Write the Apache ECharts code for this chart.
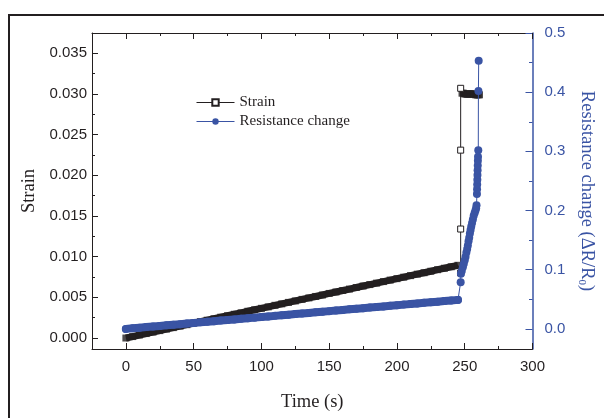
<!DOCTYPE html>
<html>
<head>
<meta charset="utf-8">
<script src="https://cdn.jsdelivr.net/npm/echarts@6/dist/echarts.min.js"></script>
<style>
  html, body { margin: 0; padding: 0; background: #fff; }
  #chart { width: 604px; height: 418px; }
</style>
</head>
<body>
<div id="chart"></div>
<script>
// Slow loading phase: time (s), strain and resistance change every 5 s
const bandTime = [0, 5, 10, 15, 20, 25, 30, 35, 40, 45, 50, 55, 60, 65, 70, 75, 80, 85, 90, 95,
  100, 105, 110, 115, 120, 125, 130, 135, 140, 145, 150, 155, 160, 165, 170, 175, 180, 185, 190, 195,
  200, 205, 210, 215, 220, 225, 230, 235, 240, 245];
const bandStrain = [0.0000, 0.00018, 0.00037, 0.00055, 0.00073, 0.00091, 0.0011, 0.00128, 0.00146, 0.00164,
  0.00183, 0.00201, 0.00219, 0.00237, 0.00256, 0.00274, 0.00292, 0.0031, 0.00329, 0.00347,
  0.00365, 0.00383, 0.00402, 0.0042, 0.00438, 0.00456, 0.00475, 0.00493, 0.00511, 0.00529,
  0.00548, 0.00566, 0.00584, 0.00602, 0.00621, 0.00639, 0.00657, 0.00675, 0.00694, 0.00712,
  0.0073, 0.00748, 0.00767, 0.00785, 0.00803, 0.00821, 0.0084, 0.00858, 0.00876, 0.00894];
const bandResistance = [0.000, 0.001, 0.002, 0.003, 0.004, 0.005, 0.006, 0.007, 0.008, 0.009,
  0.010, 0.011, 0.012, 0.013, 0.014, 0.015, 0.016, 0.017, 0.018, 0.019,
  0.020, 0.021, 0.022, 0.023, 0.024, 0.025, 0.026, 0.027, 0.028, 0.029,
  0.030, 0.031, 0.032, 0.033, 0.034, 0.035, 0.036, 0.037, 0.038, 0.039,
  0.040, 0.041, 0.042, 0.043, 0.044, 0.045, 0.046, 0.047, 0.048, 0.049];

// Sudden strain step
const stepTime = [247.0, 247.0, 247.0, 247.0];
const stepStrain = [0.0080, 0.0134, 0.0231, 0.0307];

// Strain hold
const holdTime = [248, 249, 250, 251, 252, 253, 254, 255, 256, 257, 258, 259, 260, 260.9];
const holdStrain = [0.0301, 0.0301, 0.0300, 0.0300, 0.0300, 0.0300, 0.0300, 0.0300, 0.0300, 0.0300,
  0.0299, 0.0299, 0.0299, 0.0299];

// Resistance rise after the step
const riseTime = [247.0, 247.2, 247.8, 248.6, 249.3, 250.0, 250.6, 251.2, 251.8, 252.3, 252.8, 253.3,
  253.8, 254.3, 254.8, 255.4, 256.0, 256.6, 257.3, 257.9, 258.4, 258.7,
  259.0, 259.1, 259.2, 259.3, 259.4, 259.5, 259.6, 259.7, 259.8, 260.0, 260.1, 260.3];
const riseResistance = [0.079, 0.093, 0.098, 0.104, 0.110, 0.116, 0.122, 0.129, 0.135, 0.141, 0.148, 0.154,
  0.161, 0.167, 0.173, 0.179, 0.185, 0.191, 0.196, 0.200, 0.204, 0.209,
  0.228, 0.236, 0.244, 0.252, 0.260, 0.268, 0.276, 0.284, 0.291, 0.302, 0.402, 0.453];

// Axis ticks
const timeTicks = [0, 50, 100, 150, 200, 250, 300];
const timeMinorTicks = [25, 75, 125, 175, 225, 275];
const strainTicks = [0, 0.005, 0.010, 0.015, 0.020, 0.025, 0.030, 0.035];
const strainMinorTicks = [0.0025, 0.0075, 0.0125, 0.0175, 0.0225, 0.0275, 0.0325];
const resistanceTicks = [0, 0.1, 0.2, 0.3, 0.4, 0.5];
const resistanceMinorTicks = [0.05, 0.15, 0.25, 0.35, 0.45];

const INK = '#231f20';
const BLUE = '#3a54a4';
const SANS = '"Liberation Sans", Arial, sans-serif';
const SERIF = '"Liberation Serif", "Times New Roman", serif';

const zip = (xs, ys) => xs.map((x, i) => [x, ys[i]]);
const strainBand = zip(bandTime, bandStrain);
const strainHold = zip(holdTime, holdStrain);
const resistanceBand = zip(bandTime, bandResistance);
const resistanceAll = resistanceBand.concat(zip(riseTime, riseResistance));

// Strain trace: the sparse step points keep their open squares, the dense stretches are drawn solid
const plain = p => ({ value: p, symbol: 'none' });
const strainAll = strainBand.map(plain)
  .concat(zip(stepTime, stepStrain))
  .concat(strainHold.map(plain));

function tickAxis(extra) {
  return Object.assign({
    type: 'value',
    splitLine: { show: false },
    axisLine: { show: false, onZero: false },
    axisLabel: { show: false },
    axisTick: { show: false }
  }, extra);
}

function denseTrace(data, yAxisIndex, color, width, cap, z) {
  return {
    type: 'line', xAxisIndex: 0, yAxisIndex,
    data, symbol: 'none', silent: true,
    lineStyle: { color, width, cap, join: 'round' }, z
  };
}

const chart = echarts.init(document.getElementById('chart'), null, { renderer: 'canvas' });

chart.setOption({
  animation: false,
  backgroundColor: '#fff',
  grid: { left: 92, right: 67, top: 33, bottom: 69 },
  graphic: [{
    type: 'rect',
    silent: true,
    shape: { x: 9, y: 15, width: 700, height: 500 },
    style: { fill: 'none', stroke: INK, lineWidth: 2 }
  }],
  legend: {
    data: [
      { name: 'Strain', lineStyle: { color: INK, width: 1 } },
      { name: 'Resistance change', lineStyle: { color: BLUE, width: 1 } }
    ],
    orient: 'vertical',
    left: 191,
    top: 90,
    itemWidth: 38,
    itemHeight: 8,
    itemGap: 4,
    textStyle: { fontFamily: SERIF, fontSize: 15, color: INK }
  },
  xAxis: [
    tickAxis({
      min: -25, max: 300, position: 'bottom',
      axisLine: { show: true, onZero: false, lineStyle: { color: INK, width: 1 } },
      axisTick: { show: true, inside: true, length: 6, customValues: timeTicks, lineStyle: { color: INK } },
      axisLabel: { show: true, customValues: timeTicks, margin: 10, fontFamily: SANS, fontSize: 15, color: INK },
      name: 'Time (s)', nameLocation: 'middle', nameGap: 44,
      nameTextStyle: { fontFamily: SERIF, fontSize: 18.5, color: INK }
    }),
    tickAxis({
      min: -25, max: 300, position: 'bottom',
      axisTick: { show: true, inside: true, length: 3, customValues: timeMinorTicks, lineStyle: { color: INK } }
    }),
    tickAxis({
      min: -25, max: 300, position: 'top',
      axisLine: { show: true, onZero: false, lineStyle: { color: INK, width: 1 } },
      axisTick: { show: true, inside: true, length: 6, customValues: timeTicks, lineStyle: { color: INK } }
    }),
    tickAxis({
      min: -25, max: 300, position: 'top',
      axisTick: { show: true, inside: true, length: 3, customValues: timeMinorTicks, lineStyle: { color: INK } }
    })
  ],
  yAxis: [
    tickAxis({
      min: -0.00135, max: 0.0375, position: 'left',
      axisLine: { show: true, onZero: false, lineStyle: { color: INK, width: 1 } },
      axisTick: { show: true, inside: true, length: 6, customValues: strainTicks, lineStyle: { color: INK } },
      axisLabel: {
        show: true, customValues: strainTicks, margin: 5, fontFamily: SANS, fontSize: 15, color: INK,
        formatter: v => v.toFixed(3)
      },
      name: 'Strain', nameLocation: 'middle', nameGap: 53,
      nameTextStyle: { fontFamily: SERIF, fontSize: 18.5, color: INK }
    }),
    tickAxis({
      min: -0.00135, max: 0.0375, position: 'left',
      axisTick: { show: true, inside: true, length: 3, customValues: strainMinorTicks, lineStyle: { color: INK } }
    }),
    tickAxis({
      min: -0.034, max: 0.5, position: 'right',
      axisLine: { show: true, onZero: false, lineStyle: { color: BLUE, width: 1.5 } },
      axisTick: { show: true, inside: true, length: 7, customValues: resistanceTicks, lineStyle: { color: BLUE } },
      axisLabel: {
        show: true, customValues: resistanceTicks, margin: 12, fontFamily: SANS, fontSize: 15, color: BLUE,
        formatter: v => v.toFixed(1)
      },
      name: 'Resistance change (ΔR/R{sub|0})', nameLocation: 'middle', nameGap: 44, nameRotate: -90,
      nameTextStyle: {
        fontFamily: SERIF, fontSize: 18.5, color: BLUE,
        rich: { sub: { fontFamily: SERIF, fontSize: 11, color: BLUE, verticalAlign: 'bottom', padding: [9, 0, 0, 0] } }
      }
    }),
    tickAxis({
      min: -0.034, max: 0.5, position: 'right',
      axisTick: { show: true, inside: true, length: 3.5, customValues: resistanceMinorTicks, lineStyle: { color: BLUE } }
    })
  ],
  series: [
    denseTrace(strainBand, 0, INK, 7, 'butt', 1),
    denseTrace(strainHold, 0, INK, 7, 'butt', 1),
    {
      name: 'Strain samples',
      type: 'scatter',
      xAxisIndex: 0, yAxisIndex: 0,
      data: strainBand.concat(strainHold),
      symbol: 'rect',
      symbolSize: 7,
      itemStyle: { color: INK },
      z: 2
    },
    {
      name: 'Strain',
      type: 'line',
      xAxisIndex: 0, yAxisIndex: 0,
      data: strainAll,
      showAllSymbol: true,
      symbol: 'rect',
      symbolSize: 6,
      itemStyle: { color: '#fff', borderColor: INK, borderWidth: 1 },
      lineStyle: { color: INK, width: 1 },
      z: 3
    },
    denseTrace(resistanceBand, 2, BLUE, 8, 'round', 3),
    {
      name: 'Resistance change',
      type: 'line',
      xAxisIndex: 0, yAxisIndex: 2,
      data: resistanceAll,
      showAllSymbol: true,
      symbol: 'circle',
      symbolSize: 8,
      itemStyle: { color: BLUE },
      lineStyle: { color: BLUE, width: 1 },
      z: 4
    }
  ]
});
</script>
</body>
</html>
